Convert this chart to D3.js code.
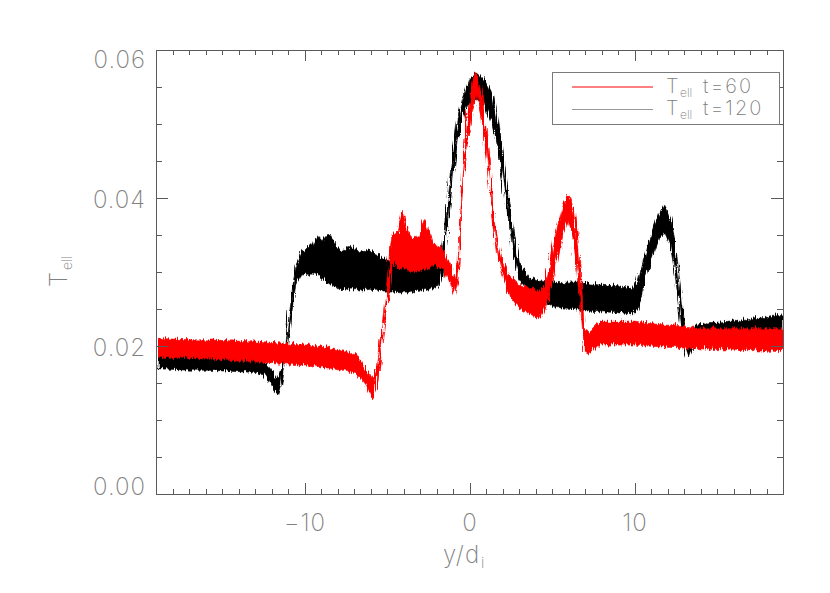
<!DOCTYPE html>
<html>
<head>
<meta charset="utf-8">
<script src="https://cdn.jsdelivr.net/npm/d3@7"></script>
<style>
  html, body { margin: 0; padding: 0; background: #fff; }
  svg { display: block; }
  text { font-family: "Inter", "DejaVu Sans", sans-serif; font-weight: 200; fill: #808080; }
</style>
</head>
<body>
<svg id="chart" width="830" height="593"></svg>
<script>
// ---- data (envelope of the noisy traces) ----
const xMajorTicks = [-10, 0, 10];
const yMajorTicks = [0, 0.02, 0.04, 0.06];
const legendLabels = ["t=60", "t=120"];

// T_ell at t=120 (black)
const blackX  = [-19,-18,-17,-16,-15,-14,-13,-12.5,-12.2,-11.9,-11.7,-11.5,-11.25,-10.95,-10.65,-10.3,-10,-9.6,-9.3,-9,-8.6,-8.2,-7.9,-7.6,-7.3,-6.9,-6.5,-6,-5.5,-5,-4.5,-4,-3.5,-3,-2.5,-2,-1.8,-1.6,-1.4,-1.1,-0.8,-0.5,-0.1,0.3,0.9,1.3,1.6,1.9,2.2,2.5,2.9,3.5,4.3,5.3,6.2,7,7.8,8.8,9.8,10.1,10.4,10.9,11.4,11.75,12.1,12.4,12.7,12.9,13.2,13.6,14.5,15.8,17,18,19];
const blackLo = [0.0172,0.0171,0.0170,0.0170,0.0169,0.0168,0.0167,0.0163,0.0152,0.0140,0.0137,0.0150,0.0185,0.0240,0.0285,0.0298,0.0300,0.0298,0.0300,0.0292,0.0285,0.0283,0.0277,0.0280,0.0278,0.0279,0.0277,0.0278,0.0278,0.0276,0.0275,0.0274,0.0276,0.0277,0.0279,0.0282,0.0295,0.0330,0.0370,0.0434,0.0482,0.0515,0.0532,0.0537,0.0523,0.0501,0.0470,0.0429,0.0380,0.0334,0.0294,0.0276,0.0262,0.0253,0.0252,0.0250,0.0249,0.0248,0.0246,0.0252,0.0280,0.0316,0.0348,0.0357,0.0339,0.0299,0.0235,0.0208,0.0188,0.0204,0.0208,0.0212,0.0214,0.0216,0.0218];
const blackHi = [0.0189,0.0188,0.0187,0.0186,0.0185,0.0184,0.0183,0.0180,0.0172,0.0160,0.0158,0.0172,0.0205,0.0262,0.0310,0.0328,0.0332,0.0340,0.0352,0.0345,0.0355,0.0338,0.0332,0.0330,0.0338,0.0330,0.0332,0.0330,0.0322,0.0318,0.0314,0.0310,0.0307,0.0310,0.0313,0.0318,0.0330,0.0360,0.0406,0.0460,0.0509,0.0537,0.0564,0.0573,0.0560,0.0542,0.0505,0.0460,0.0406,0.0360,0.0316,0.0294,0.0290,0.0287,0.0288,0.0287,0.0285,0.0283,0.0280,0.0290,0.0316,0.0353,0.0380,0.0393,0.0374,0.0334,0.0276,0.0235,0.0212,0.0231,0.0233,0.0235,0.0239,0.0242,0.0245];

// T_ell at t=60 (red)
const redX  = [-19,-18,-17,-16,-15,-14,-13,-12,-11,-10,-9,-7.9,-6.9,-6.4,-6,-5.7,-5.45,-5.15,-4.9,-4.75,-4.45,-4.15,-3.9,-3.55,-3.2,-2.85,-2.6,-2.34,-1.73,-1.23,-1.03,-0.82,-0.62,-0.42,-0.22,0.08,0.33,0.59,0.89,1.1,1.3,1.6,1.9,2.3,2.9,3.7,4.13,4.5,4.75,5.13,5.54,5.9,6.25,6.45,6.65,6.85,7.05,7.8,9.8,11.8,13.8,15.8,17.5,19];
const redLo = [0.0186,0.0186,0.0186,0.0185,0.0184,0.0182,0.0181,0.0180,0.0178,0.0177,0.0174,0.0170,0.0165,0.0150,0.0131,0.0145,0.0195,0.0253,0.0289,0.0316,0.0307,0.0307,0.0305,0.0303,0.0305,0.0305,0.0308,0.0312,0.0307,0.0285,0.0271,0.0289,0.0361,0.0433,0.0482,0.0523,0.0542,0.0514,0.0465,0.0424,0.0374,0.0325,0.0298,0.0271,0.0253,0.0245,0.0239,0.0255,0.0276,0.0312,0.0353,0.0370,0.0343,0.0303,0.0245,0.0195,0.0192,0.0204,0.0204,0.0201,0.0199,0.0197,0.0196,0.0195];
const redHi = [0.0213,0.0212,0.0211,0.0211,0.0210,0.0209,0.0208,0.0206,0.0205,0.0204,0.0201,0.0197,0.0190,0.0172,0.0158,0.0177,0.0218,0.0271,0.0330,0.0353,0.0357,0.0385,0.0360,0.0348,0.0350,0.0375,0.0360,0.0343,0.0334,0.0312,0.0293,0.0316,0.0397,0.0460,0.0514,0.0560,0.0573,0.0550,0.0496,0.0451,0.0397,0.0343,0.0316,0.0298,0.0285,0.0280,0.0276,0.0285,0.0312,0.0357,0.0393,0.0407,0.0384,0.0348,0.0290,0.0226,0.0222,0.0235,0.0235,0.0231,0.0226,0.0226,0.0226,0.0226];

// ---- drawing ----
const svg = d3.select("#chart");
const L = 156, R = 783, T = 50, B = 494;
const x = d3.scaleLinear().domain([-19, 19]).range([L, R]);
const y = d3.scaleLinear().domain([0, 0.06]).range([B, T]);

const defs = svg.append("defs");
defs.append("clipPath").attr("id", "clip")
  .append("rect").attr("x", L).attr("y", T).attr("width", R - L).attr("height", B - T);
// rendering texture that roughens the band edges (style only, data unchanged)
const f = defs.append("filter").attr("id", "rough")
  .attr("x", "-2%").attr("y", "-10%").attr("width", "104%").attr("height", "120%");
f.append("feTurbulence").attr("type", "turbulence").attr("baseFrequency", "0.9 0.03")
  .attr("numOctaves", 2).attr("seed", 3).attr("result", "n");
f.append("feDisplacementMap").attr("in", "SourceGraphic").attr("in2", "n")
  .attr("scale", 7).attr("xChannelSelector", "B").attr("yChannelSelector", "R");

const area = d3.area().x(d => x(d.x)).y0(d => y(d.lo)).y1(d => y(d.hi));
const blackData = blackX.map((v, i) => ({x: v, lo: blackLo[i], hi: blackHi[i]}));
const redData = redX.map((v, i) => ({x: v, lo: redLo[i], hi: redHi[i]}));

const plot = svg.append("g").attr("clip-path", "url(#clip)");
plot.append("path").datum(blackData).attr("d", area)
  .attr("fill", "#000").attr("stroke", "#000").attr("stroke-width", 0.6).attr("filter", "url(#rough)");
plot.append("path").datum(redData).attr("d", area)
  .attr("fill", "#ff0000").attr("stroke", "#ff0000").attr("stroke-width", 0.6).attr("filter", "url(#rough)");

// minor tick values
const xMinor = d3.range(-19, 20, 1).filter(v => !xMajorTicks.includes(v));
const yMinor = d3.range(0, 0.0601, 0.005).map(v => +v.toFixed(3)).filter(v => !yMajorTicks.some(m => Math.abs(m - v) < 1e-9));

function styleAxis(g) {
  g.selectAll("path.domain").attr("stroke", "#5a5a5a").attr("stroke-width", 1);
  g.selectAll(".tick line").attr("stroke", "#5a5a5a").attr("stroke-width", 1);
  g.attr("shape-rendering", "crispEdges");
}

const fmtX = d => d < 0 ? "\u2212" + Math.abs(d) : String(d);

// bottom
const gB = svg.append("g").attr("transform", `translate(0,${B})`)
  .call(d3.axisBottom(x).tickValues(xMajorTicks).tickSizeInner(-11).tickSizeOuter(0).tickPadding(20).tickFormat(fmtX));
svg.append("g").attr("transform", `translate(0,${B})`)
  .call(d3.axisBottom(x).tickValues(xMinor).tickSizeInner(-5).tickSizeOuter(0).tickFormat(""))
  .call(styleAxis);
// top
svg.append("g").attr("transform", `translate(0,${T})`)
  .call(d3.axisTop(x).tickValues(xMajorTicks).tickSizeInner(-11).tickSizeOuter(0).tickFormat(""))
  .call(styleAxis);
svg.append("g").attr("transform", `translate(0,${T})`)
  .call(d3.axisTop(x).tickValues(xMinor).tickSizeInner(-5).tickSizeOuter(0).tickFormat(""))
  .call(styleAxis);
// left
const gL = svg.append("g").attr("transform", `translate(${L},0)`)
  .call(d3.axisLeft(y).tickValues(yMajorTicks).tickSizeInner(-12).tickSizeOuter(0).tickPadding(10).tickFormat(d3.format(".2f")));
svg.append("g").attr("transform", `translate(${L},0)`)
  .call(d3.axisLeft(y).tickValues(yMinor).tickSizeInner(-6).tickSizeOuter(0).tickFormat(""))
  .call(styleAxis);
// right
svg.append("g").attr("transform", `translate(${R},0)`)
  .call(d3.axisRight(y).tickValues(yMajorTicks).tickSizeInner(-12).tickSizeOuter(0).tickFormat(""))
  .call(styleAxis);
svg.append("g").attr("transform", `translate(${R},0)`)
  .call(d3.axisRight(y).tickValues(yMinor).tickSizeInner(-6).tickSizeOuter(0).tickFormat(""))
  .call(styleAxis);

[gB, gL].forEach(g => {
  styleAxis(g);
  g.selectAll("text").attr("font-size", 24).attr("font-family", null).attr("fill", "#808080")
    .attr("letter-spacing", "1px");
});
gL.selectAll(".tick text").attr("dy", d => d === 0 ? "-0.0em" : (d === 0.06 ? "0.71em" : "0.40em"));

// axis titles
svg.append("text").attr("x", 443).attr("y", 563).attr("font-size", 24).attr("letter-spacing", "1px").text("y/d");
svg.append("text").attr("x", 481).attr("y", 568).attr("font-size", 15).text("i");

const yl = svg.append("g").attr("transform", "translate(67,287) rotate(-90)");
yl.append("text").attr("x", 0).attr("y", 0).attr("font-size", 24).text("T");
yl.append("text").attr("x", 17).attr("y", 5).attr("font-size", 14).text("ell");

// legend
const lg = svg.append("g");
lg.append("rect").attr("x", 552).attr("y", 72).attr("width", 227).attr("height", 52)
  .attr("fill", "#fff").attr("stroke", "#7a7a7a").attr("stroke-width", 1).attr("shape-rendering", "crispEdges");
const legendColors = ["#ff0000", "#999999"];
legendLabels.forEach((lab, i) => {
  const ly = 87 + i * 22.5;
  lg.append("line").attr("x1", 572).attr("x2", 653).attr("y1", ly).attr("y2", ly)
    .attr("stroke", legendColors[i]).attr("stroke-width", 1);
  lg.append("text").attr("x", 666).attr("y", ly + 5.5).attr("font-size", 20).text("T");
  lg.append("text").attr("x", 680).attr("y", ly + 9.5).attr("font-size", 12).text("ell");
  lg.append("text").attr("x", 703).attr("y", ly + 5.5).attr("font-size", 20).attr("letter-spacing", "2px").text(lab);
});
</script>
</body>
</html>
